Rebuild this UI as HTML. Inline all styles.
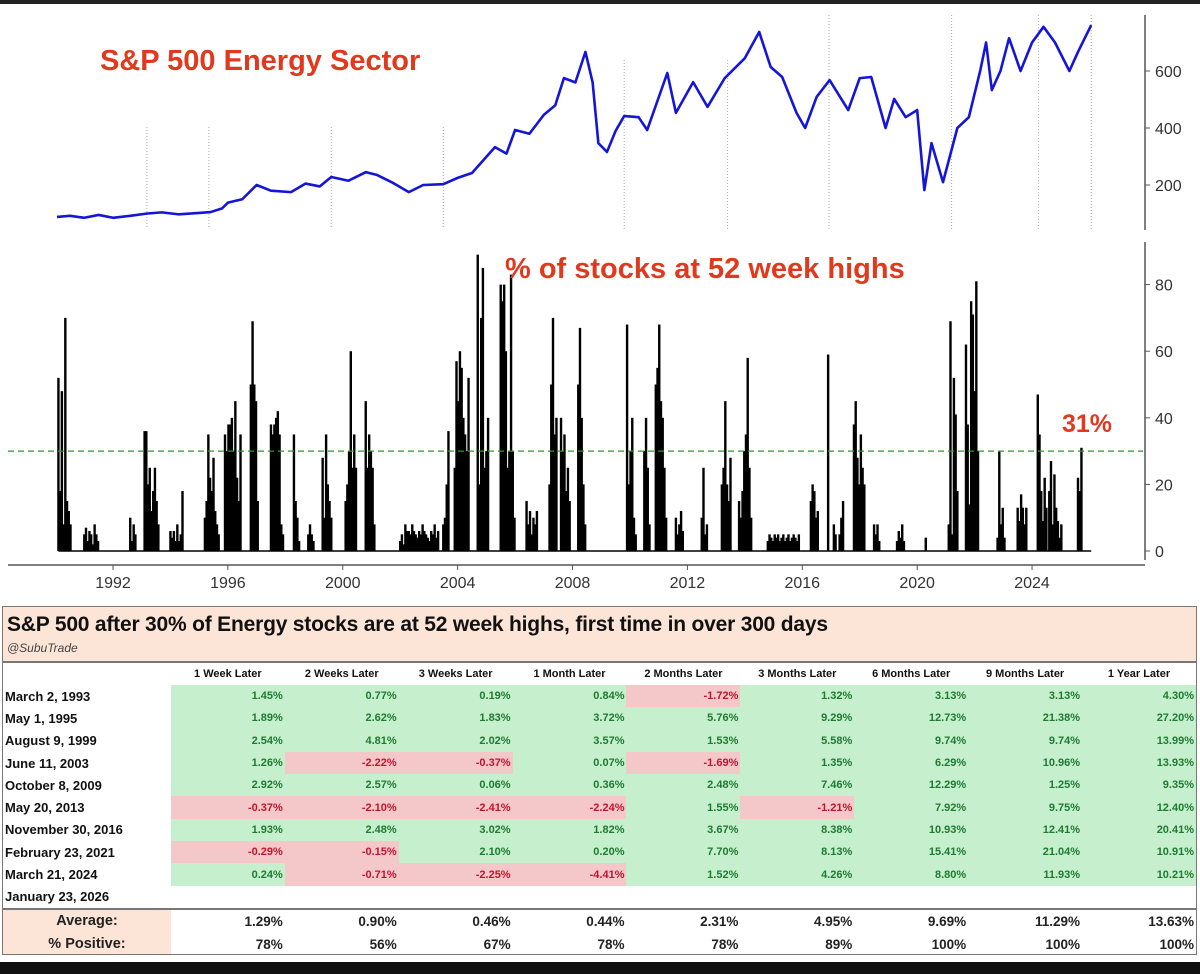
<!DOCTYPE html>
<html><head><meta charset="utf-8"><style>
body{margin:0;width:1200px;height:974px;background:#fff;font-family:"Liberation Sans",sans-serif;overflow:hidden;position:relative}
svg{position:absolute;left:0;top:0}
#tbl{position:absolute;left:2px;top:606px;width:1195px;height:349px;border:1px solid #777;box-sizing:border-box;overflow:hidden}
.ttl{background:#fce4d6;height:54px;border-bottom:2px solid #777;position:relative}
.ttl h1{margin:0;position:absolute;left:4px;top:6px;font-size:21px;font-weight:bold;color:#111;letter-spacing:-0.2px}
.ttl span{position:absolute;left:4px;top:34px;font-size:12px;font-style:italic;color:#444}
table{border-collapse:collapse;position:absolute;left:0;top:56px;table-layout:fixed}
td{padding:0 2px;height:22.3px;font-size:11px;font-weight:bold;text-align:right;white-space:nowrap}
td.l{text-align:left;font-size:13px;color:#111;width:164px}
td.v{width:110px}
.g{background:#c6efce;color:#1e7b30}.r{background:#f4c7c9;color:#c0152f}
th{font-size:11px;font-weight:bold;height:20px;text-align:center;color:#111}
tr.s td{font-size:13.5px;height:23px;color:#222}
tr.s td.l{background:#fce4d6;text-align:center;font-size:14.5px}
tr.first td{border-top:2px solid #777}
</style></head><body>
<div style="position:absolute;left:0;top:0;width:1200px;height:4px;background:#222"></div>
<svg id="chart" width="1200" height="600"></svg>
<div id="tbl">
<div class="ttl"><h1>S&amp;P 500 after 30% of Energy stocks are at 52 week highs, first time in over 300 days</h1><span>@SubuTrade</span></div>
<table id="t"></table>
</div>
<div style="position:absolute;left:0;top:962px;width:1200px;height:12px;background:#111"></div>
<script>
// ---- data ----
const priceYears=[1990.05,1990.5,1991,1991.5,1992,1992.6,1993.2,1993.7,1994.3,1995,1995.4,1995.8,1996,1996.5,1997,1997.5,1998.2,1998.7,1999.2,1999.6,2000.2,2000.8,2001.2,2001.7,2002.3,2002.8,2003.5,2004,2004.5,2005.3,2005.7,2006,2006.5,2007,2007.4,2007.7,2008.1,2008.45,2008.7,2008.9,2009.2,2009.5,2009.8,2010.3,2010.6,2011.3,2011.6,2012.2,2012.7,2013.3,2014,2014.5,2014.9,2015.3,2015.8,2016.1,2016.5,2016.95,2017.6,2018,2018.4,2018.9,2019.2,2019.6,2020,2020.25,2020.5,2020.9,2021.4,2021.8,2022.2,2022.4,2022.6,2022.9,2023.2,2023.6,2024,2024.4,2024.8,2025.3,2025.6,2026.06];
const priceVals=[88,92,85,95,85,92,100,104,97,102,105,118,138,150,200,180,175,205,195,228,215,245,235,210,175,200,203,225,242,333,310,393,380,446,480,575,560,667,560,347,316,390,442,438,393,593,453,561,474,575,645,737,614,579,453,400,509,568,463,575,579,400,502,438,463,182,347,210,400,438,603,700,533,600,715,600,700,755,700,600,667,761];
const barStarts=[1990.1,1991.0,1992.6,1993.1,1994.0,1995.2,1995.9,1996.8,1997.5,1998.3,1998.8,1999.3,2000.1,2000.8,2002.0,2003.5,2003.9,2004.7,2005.5,2006.4,2007.2,2007.6,2008.2,2009.9,2010.5,2010.9,2011.6,2012.5,2013.2,2013.8,2014.8,2016.3,2016.9,2017.1,2017.3,2017.8,2018.5,2019.3,2020.3,2021.1,2021.7,2022.8,2023.5,2024.2,2024.6,2025.6];
const barGroups=[[52,18,48,8,70,15,12,8],[5,7,3,6,5,2,8,5,3],[10,3,8,5],[36,36,20,25,12,18,25,15,8],[6,4,6,3,8,3,5,18],[10,15,35,22,18,28,12,8,5],[35,30,38,38,40,30,45,22,15,35],[50,69,50,45,15],[38,35,38,40,42,35,8,5],[35,15,10,3],[5,8,5,3],[28,10,35,20,15,10],[15,20,30,60,25,35,25],[45,25,35,30,25,8],[3,5,2,8,6,6,5,8,6,5,4,6,5,8,6,5,4,3,6,5,8,4,6],[8,10,20,36],[25,57,45,60,55,40,35,30,52],[89,20,70,85,25,30,40],[80,75,80,60,25,30,83,30,10],[15,8,12,5,10,8,12],[20,50,70,35,40],[40,30,35,18,25,15],[50,67,40,20,8],[68,20,30,40,10,5],[30,40,25,8],[50,55,68,45,40,25,10],[10,5,8,12,6],[10,25,5,8],[20,25,45,20,15,28],[15,10,18,30,35,58,25,10],[3,5,4,3,5,4,5,3,4,5,3,4,5,3,4,5,4,3,5],[15,20,18,10,12],[59],[8,5],[5,10,15],[38,45,28,20,35,25,20],[8,5,8,3],[3,6,4,8,3],[4],[8,69,5,52,41,18],[62,38,14,75,71,48,81,30],[4,30,8,13,4],[13,9,17,13,8,13],[47,35,18,9,22,13],[18,27,8,23,13,9,4,8],[22,18,31]];
const eventYears=[1993.18,1995.34,1999.6,2003.5,2009.8,2013.4,2016.93,2021.2,2024.22,2026.06];
const priceTicks=[200,400,600];
const pctTicks=[0,20,40,60,80];
const yearTicks=[1992,1996,2000,2004,2008,2012,2016,2020,2024];
// ---- scales ----
const X=y=>113+(y-1992)*28.72;
const YP=v=>242-v*0.285;
const YB=v=>551-v*3.33;
const svg=document.getElementById('chart');const NS='http://www.w3.org/2000/svg';
function mk(t,a,p){const e=document.createElementNS(NS,t);for(const k in a)e.setAttribute(k,a[k]);(p||svg).appendChild(e);return e;}
// events
eventYears.forEach((y,i)=>{const top=i<4?127:(i<6?60:15);const e=mk('line',{x1:X(y),x2:X(y),y1:top,y2:229,stroke:'#aaa','stroke-width':1,'stroke-dasharray':'1,2'});

});
// price line
const pl=mk('polyline',{points:priceYears.map((y,i)=>X(y)+','+YP(priceVals[i])).join(' '),fill:'none',stroke:'#1515d8','stroke-width':2.6,'stroke-linejoin':'round'});


// axes
[[15,230],[242,560]].forEach(r=>{const a=mk('line',{x1:1145,x2:1145,y1:r[0],y2:r[1],stroke:'#555','stroke-width':1.5});

});
const xa=mk('line',{x1:8,x2:1145,y1:565,y2:565,stroke:'#555','stroke-width':1.5});


priceTicks.forEach(v=>{mk('line',{x1:1145,x2:1150,y1:YP(v),y2:YP(v),stroke:'#555'});
const t=mk('text',{x:1155,y:YP(v)+6,'font-size':16,fill:'#333'});t.textContent=v;

});
pctTicks.forEach(v=>{mk('line',{x1:1145,x2:1150,y1:YB(v),y2:YB(v),stroke:'#555'});
const t=mk('text',{x:1155,y:YB(v)+6,'font-size':16,fill:'#333'});t.textContent=v;

});
yearTicks.forEach(y=>{mk('line',{x1:X(y),x2:X(y),y1:565,y2:570,stroke:'#555'});
const t=mk('text',{x:X(y),y:588,'font-size':16,fill:'#333','text-anchor':'middle'});t.textContent=y;

});
// bars
barStarts.forEach((s,gi)=>{barGroups[gi].forEach((v,i)=>{const x=X(s+i*0.06);
const b=mk('rect',{x:x-1.2,y:YB(v),width:2.4,height:551-YB(v),fill:'#000'});

});});
mk('line',{x1:X(1990.1),x2:X(2026.06),y1:551,y2:551,stroke:'#000','stroke-width':1.5});
const th=mk('line',{x1:8,x2:1143,y1:YB(30),y2:YB(30),stroke:'#2a9a2a','stroke-width':1.3,'stroke-dasharray':'6,4'});


function lab(x,y,s,txt,n){const t=mk('text',{x:x,y:y,'font-size':s,'font-weight':'bold',fill:'#e0391e'});t.textContent=txt;

}
lab(100,70,29,'S&P 500 Energy Sector','top-chart-title');
lab(505,278,29,'% of stocks at 52 week highs','bottom-chart-title');
lab(1062,432,25,'31%','current-value-label');
// ---- table ----
const cols=['1 Week Later','2 Weeks Later','3 Weeks Later','1 Month Later','2 Months Later','3 Months Later','6 Months Later','9 Months Later','1 Year Later'];
const dates=['March 2, 1993','May 1, 1995','August 9, 1999','June 11, 2003','October 8, 2009','May 20, 2013','November 30, 2016','February 23, 2021','March 21, 2024'];
const rets=[[1.45,0.77,0.19,0.84,-1.72,1.32,3.13,3.13,4.30],[1.89,2.62,1.83,3.72,5.76,9.29,12.73,21.38,27.20],[2.54,4.81,2.02,3.57,1.53,5.58,9.74,9.74,13.99],[1.26,-2.22,-0.37,0.07,-1.69,1.35,6.29,10.96,13.93],[2.92,2.57,0.06,0.36,2.48,7.46,12.29,1.25,9.35],[-0.37,-2.10,-2.41,-2.24,1.55,-1.21,7.92,9.75,12.40],[1.93,2.48,3.02,1.82,3.67,8.38,10.93,12.41,20.41],[-0.29,-0.15,2.10,0.20,7.70,8.13,15.41,21.04,10.91],[0.24,-0.71,-2.25,-4.41,1.52,4.26,8.80,11.93,10.21]];
const avgs=['1.29%','0.90%','0.46%','0.44%','2.31%','4.95%','9.69%','11.29%','13.63%'];
const pos=['78%','56%','67%','78%','78%','89%','100%','100%','100%'];
let h='<tr><th style="width:164px"></th>'+cols.map(c=>'<th style="width:110px">'+c+'</th>').join('')+'</tr>';
dates.forEach((d,i)=>{h+='<tr><td class="l">'+d+'</td>'+rets[i].map(v=>'<td class="v '+(v<0?'r':'g')+'">'+v.toFixed(2)+'%</td>').join('')+'</tr>';});
h+='<tr><td class="l">January 23, 2026</td>'+cols.map(()=>'<td></td>').join('')+'</tr>';
h+='<tr class="s first"><td class="l">Average:</td>'+avgs.map(v=>'<td>'+v+'</td>').join('')+'</tr>';
h+='<tr class="s"><td class="l">% Positive:</td>'+pos.map(v=>'<td>'+v+'</td>').join('')+'</tr>';
document.getElementById('t').innerHTML=h;
</script>
</body></html>
